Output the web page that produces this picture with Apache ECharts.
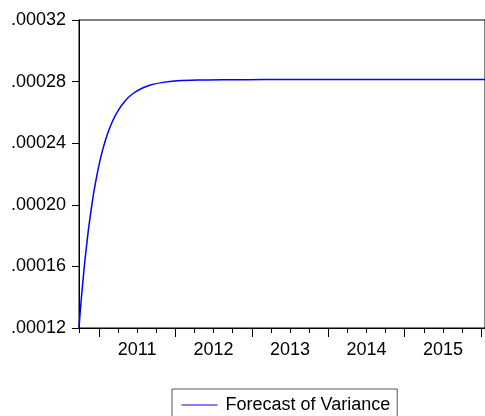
<!DOCTYPE html>
<html>
<head>
<meta charset="utf-8">
<script src="https://cdn.jsdelivr.net/npm/echarts@6/dist/echarts.min.js"></script>
<style>
html,body{margin:0;padding:0;background:#fff;}
#c{width:485px;height:416px;}
</style>
</head>
<body>
<div id="c"></div>
<script>
// Time (decimal years) and forecast variance
const times = [2010.741, 2010.766, 2010.792, 2010.817, 2010.843, 2010.868, 2010.907, 2010.945,
  2010.996, 2011.047, 2011.111, 2011.175, 2011.252, 2011.341, 2011.443, 2011.558, 2011.686,
  2011.839, 2012.031, 2012.286, 2012.669, 2013.180, 2014.070, 2015.090, 2016.050];
const variance = [0.0001200, 0.0001360, 0.0001503, 0.0001632, 0.0001748, 0.0001854, 0.0001992, 0.0002111,
  0.0002243, 0.0002350, 0.0002456, 0.0002538, 0.0002612, 0.0002673, 0.0002721, 0.0002755, 0.0002779,
  0.0002795, 0.0002805, 0.0002810, 0.0002812, 0.0002813, 0.0002813, 0.0002813, 0.0002813];
const quarterTicks = [2010.75, 2011, 2011.25, 2011.5, 2011.75, 2012, 2012.25, 2012.5, 2012.75,
  2013, 2013.25, 2013.5, 2013.75, 2014, 2014.25, 2014.5, 2014.75, 2015, 2015.25, 2015.5, 2015.75, 2016];
const yearTicks = [2011, 2012, 2013, 2014, 2015, 2016];
const yearLabels = [2011.5, 2012.5, 2013.5, 2014.5, 2015.5];
const seriesName = 'Forecast of Variance';

const FONT = 'Liberation Sans, Arial, sans-serif';
const data = times.map((t, i) => [t, variance[i]]);
const chart = echarts.init(document.getElementById('c'), null, {renderer: 'canvas'});
chart.setOption({
  animation: false,
  backgroundColor: '#fff',
  grid: {left: 79, top: 20, right: -10, height: 308, show: true, borderColor: '#000', borderWidth: 1, containLabel: false},
  xAxis: [{
    type: 'value', min: 2010.741, max: 2016.05,
    axisLine: {show: true, lineStyle: {color: '#000', width: 1}},
    axisTick: {show: true, customValues: quarterTicks, length: 5, lineStyle: {color: '#000'}},
    axisLabel: {show: true, customValues: yearLabels, margin: 13, color: '#000', fontFamily: FONT, fontSize: 18,
      formatter: v => String(Math.floor(v))},
    splitLine: {show: false}
  }, {
    type: 'value', min: 2010.741, max: 2016.05, position: 'bottom',
    axisLine: {show: false},
    axisTick: {show: true, customValues: yearTicks, length: 9, lineStyle: {color: '#000'}},
    axisLabel: {show: false},
    splitLine: {show: false}
  }],
  yAxis: {
    type: 'value', min: 0.00012, max: 0.00032, interval: 0.00004,
    axisLine: {show: true, lineStyle: {color: '#000', width: 1}},
    axisTick: {show: true, length: 7, lineStyle: {color: '#000'}},
    axisLabel: {margin: 13, color: '#000', fontFamily: FONT, fontSize: 18,
      formatter: v => v.toFixed(5).replace(/^0/, '')},
    splitLine: {show: false}
  },
  legend: {
    show: true, left: 172, top: 389, orient: 'horizontal',
    padding: [7, 7, 8, 9],
    borderColor: '#555', borderWidth: 1,
    itemWidth: 36, itemHeight: 14,
    itemStyle: {opacity: 0},
    lineStyle: {width: 1, color: '#0000ff'},
    textStyle: {color: '#000', fontFamily: FONT, fontSize: 18, padding: [0, 0, 0, 3]},
    data: [seriesName]
  },
  series: [{
    name: seriesName, type: 'line', xAxisIndex: 0, data: data,
    symbol: 'none', showSymbol: false, smooth: 0.3,
    lineStyle: {color: '#0000ff', width: 1.5}, itemStyle: {color: '#0000ff'}
  }]
});
</script>
</body>
</html>
